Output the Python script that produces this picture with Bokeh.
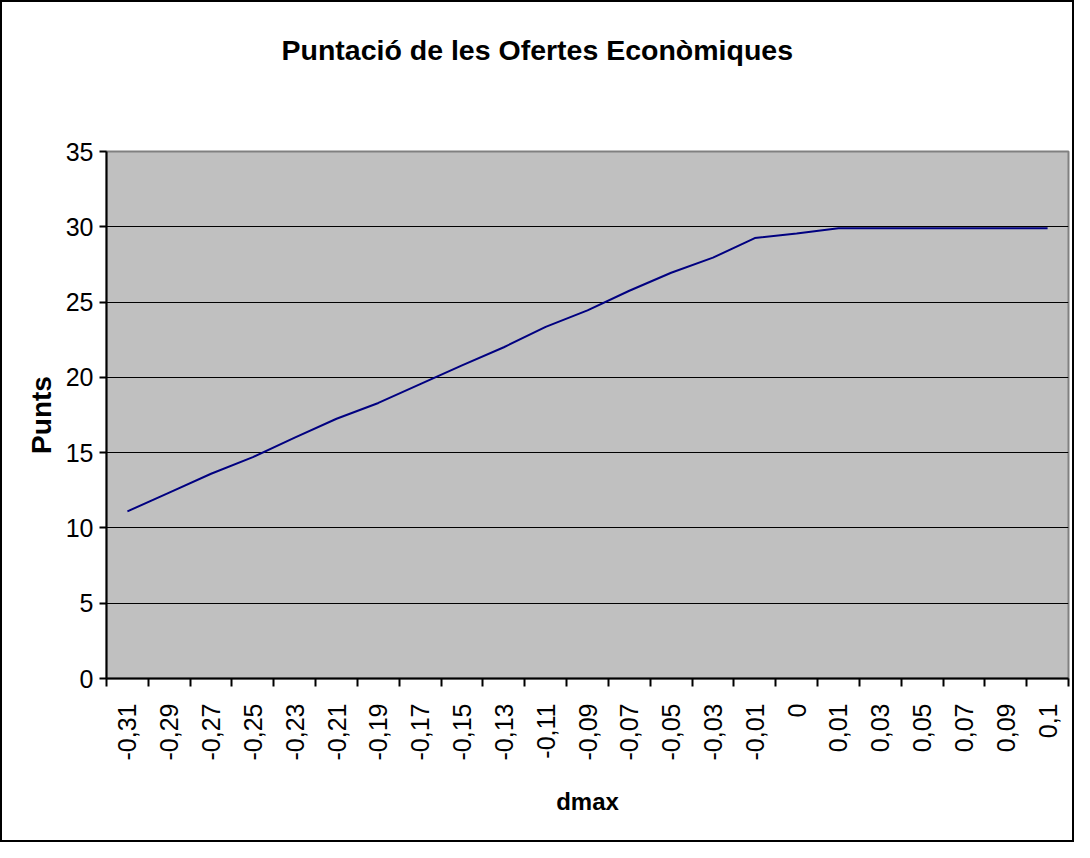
import math
from bokeh.plotting import figure
from bokeh.models import FactorRange, Range1d, FixedTicker, LinearAxis, CategoricalAxis, Title
from bokeh.embed import file_html
from bokeh.resources import INLINE

dmax_labels = ["-0,31", "-0,29", "-0,27", "-0,25", "-0,23", "-0,21", "-0,19", "-0,17",
               "-0,15", "-0,13", "-0,11", "-0,09", "-0,07", "-0,05", "-0,03", "-0,01",
               "0", "0,01", "0,03", "0,05", "0,07", "0,09", "0,1"]
punts = [11.1, 12.35, 13.6, 14.7, 16.0, 17.25, 18.3, 19.55, 20.8, 22.0, 23.35, 24.45,
         25.75, 26.95, 27.95, 29.25, 29.55, 29.9, 29.9, 29.9, 29.9, 29.9, 29.9]
y_ticks = [0, 5, 10, 15, 20, 25, 30, 35]
title_text = "Puntació de les Ofertes Econòmiques"

FONT = "Liberation Sans"

p = figure(width=1074, height=842, output_backend="svg", toolbar_location=None,
           x_range=FactorRange(*dmax_labels), y_range=Range1d(0, 35),
           x_axis_location=None,
           min_border_left=104, min_border_right=8, min_border_top=149, min_border_bottom=166)
p.styles = {"border": "2px solid black"}

p.background_fill_color = "#C0C0C0"
p.border_fill_color = "white"
p.outline_line_color = "#808080"
p.outline_line_width = 2

# empty spacer between plot area and title, then the title itself
spacer = Title(text=" ", text_font_size="2px", standoff=72)
p.add_layout(spacer, "above")
t = Title(text=title_text, align="left", vertical_align="bottom",
          text_font=FONT, text_font_size="28.5px", text_font_style="bold",
          text_color="black", standoff=20, offset=175)
p.add_layout(t, "above")

# y axis
ya = p.yaxis[0]
ya.ticker = FixedTicker(ticks=y_ticks)
ya.axis_line_color = "black"
ya.axis_line_width = 2
ya.major_tick_line_color = "black"
ya.major_tick_line_width = 2
ya.major_tick_out = 7
ya.major_tick_in = 0
ya.minor_tick_line_color = None
ya.major_label_text_font = FONT
ya.major_label_text_font_size = "25px"
ya.major_label_text_color = "black"
ya.major_label_standoff = 6
ya.axis_label = "Punts"
ya.axis_label_text_font = FONT
ya.axis_label_text_font_size = "28px"
ya.axis_label_text_font_style = "bold"
ya.axis_label_text_color = "black"
ya.axis_label_standoff = 6

p.ygrid.ticker = FixedTicker(ticks=y_ticks)
p.ygrid.grid_line_color = "black"
p.ygrid.grid_line_width = 1
p.xgrid.grid_line_color = None

# x tick marks between categories
tick_axis = LinearAxis(ticker=FixedTicker(ticks=list(range(len(dmax_labels) + 1))))
tick_axis.axis_line_color = "black"
tick_axis.axis_line_width = 2
tick_axis.major_tick_line_color = "black"
tick_axis.major_tick_line_width = 2
tick_axis.major_tick_out = 8
tick_axis.major_tick_in = 0
tick_axis.minor_tick_line_color = None
tick_axis.major_label_text_font_size = "0px"
tick_axis.major_label_text_color = None
tick_axis.major_label_standoff = 0
p.add_layout(tick_axis, "below")

# x category labels
cat_axis = CategoricalAxis()
cat_axis.axis_line_color = None
cat_axis.major_tick_line_color = None
cat_axis.major_tick_out = 0
cat_axis.major_tick_in = 0
cat_axis.major_label_orientation = math.pi / 2
cat_axis.major_label_text_font = FONT
cat_axis.major_label_text_font_size = "25px"
cat_axis.major_label_text_color = "black"
cat_axis.major_label_standoff = 17
cat_axis.axis_label = "dmax"
cat_axis.axis_label_text_font = FONT
cat_axis.axis_label_text_font_size = "24px"
cat_axis.axis_label_text_font_style = "bold"
cat_axis.axis_label_text_color = "black"
cat_axis.axis_label_standoff = 25
p.add_layout(cat_axis, "below")

p.line(x=dmax_labels, y=punts, line_color="#000080", line_width=2)

open("out.html", "w").write(file_html(p, INLINE))
